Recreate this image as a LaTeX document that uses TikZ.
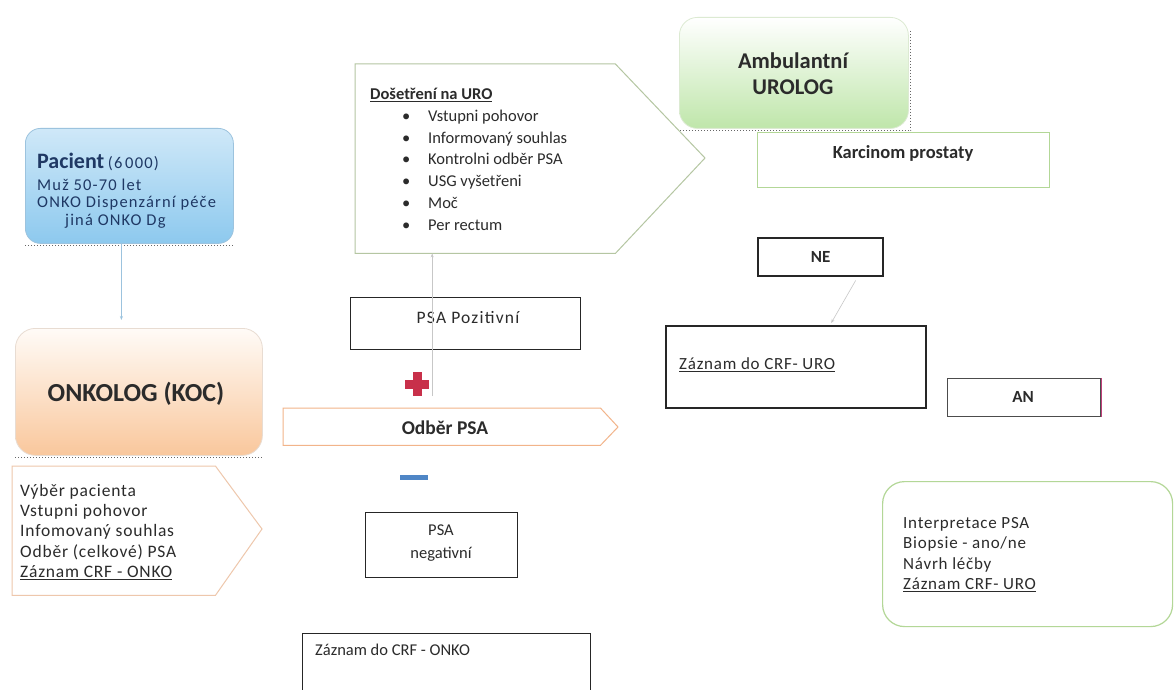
\documentclass[tikz,border=0pt]{standalone}
\usepackage{fontspec}
\setmainfont{Carlito}
\newfontfamily\lsfont[LetterSpace=4.5]{Carlito}
\newfontfamily\lswide[LetterSpace=7]{Carlito}
\usetikzlibrary{arrows.meta}
\newcommand{\myul}[1]{\underline{#1}}
\definecolor{txt}{HTML}{2B2B2B}
\definecolor{navy}{HTML}{1F3864}
\definecolor{pacT}{HTML}{CFE8F8}
\definecolor{pacB}{HTML}{8DC9EE}
\definecolor{pacD}{HTML}{9CC3DE}
\definecolor{onkT}{HTML}{FFFBF7}
\definecolor{onkB}{HTML}{F9C79C}
\definecolor{onkD}{HTML}{E8DCD2}
\definecolor{ambB}{HTML}{BFE6AA}
\definecolor{ambD}{HTML}{DCEAD2}
\definecolor{grn}{HTML}{B3D797}
\definecolor{grnD}{HTML}{B5C6A2}
\definecolor{org}{HTML}{F2B48A}
\definecolor{orgL}{HTML}{EEC7AC}
\definecolor{crossred}{HTML}{C8304A}
\definecolor{dashblue}{HTML}{4F86C6}
\definecolor{pink}{HTML}{C0407A}
\begin{document}
\begin{tikzpicture}[x=1pt,y=-1pt,
  every node/.style={inner sep=0pt, text=txt},
  sm/.style={font=\fontsize{16.5}{20.6}\selectfont},
  smls/.style={font=\lsfont\fontsize{17}{20.5}\selectfont},
  bx/.style={anchor=north west, minimum width=#1},
  blackbox/.style={draw=black!85, line width=1.4pt, fill=white},
  thickbox/.style={draw=black!85, line width=2.4pt, fill=white},
  link/.style={draw=black!22, line width=0.6pt, -{Stealth[length=4pt,width=3pt]}},
  scan/.style={draw=black!60, dotted, line width=1pt},
]
\useasboundingbox (0,0) rectangle (1175,690);
\fill[white] (0,0) rectangle (1175,690);

% ---------- left column ----------
\node[bx=208, minimum height=115, draw=pacD, line width=0.8pt, rounded corners=15pt,
      top color=pacT, bottom color=pacB] (pac) at (25,128) {};
\draw[scan] ([yshift=-2pt]pac.south west) -- ([yshift=-2pt]pac.south east);
\node[anchor=north west, align=left, text=navy, font=\fontsize{16.5}{17.6}\selectfont] (pactxt) at (37,153)
  {{\fontsize{22}{22}\selectfont\bfseries Pacient} {\lswide (6\,000)}\\[4pt] \lswide Muž 50-70 let\\ \lswide ONKO Dispenzární péče\\ \hspace*{28pt}\lswide jiná ONKO Dg};

\node[bx=247, minimum height=127, draw=onkD, line width=0.8pt, rounded corners=20pt,
      top color=onkT, bottom color=onkB] (onk) at (15,328) {};
\draw[scan] ([yshift=-2pt]onk.south west) -- ([yshift=-2pt]onk.south east);
\node[font=\fontsize{26}{26}\selectfont\bfseries] (onktxt) at (136,394) {ONKOLOG (KOC)};

\draw[draw=pacD, line width=0.6pt, -{Stealth[length=4pt,width=3pt]}, shorten >=8pt]
  ([xshift=-8pt]pac.south) -- ([xshift=-8pt]pac.south |- onk.north);

\node[bx=203, minimum height=129] (lp) at (12,466) {};
\draw[orgL, line width=1pt] (lp.north west) -- (lp.north east) -- (262,529) -- (lp.south east) -- (lp.south west) -- cycle;
\node[font=\lsfont\fontsize{17.5}{20.3}\selectfont, anchor=north west, align=left] (lptxt) at (20,484)
  {Výběr pacienta\\ Vstupni pohovor\\ Infomovaný souhlas\\ Odběr (celkové) PSA\\ \myul{Záznam CRF - ONKO}};

% ---------- middle column ----------
\node[bx=260, minimum height=189] (dos) at (355,64) {};
\draw[grnD, line width=1pt] (dos.north west) -- (dos.north east) -- (705,158) -- (dos.south east) -- (dos.south west) -- cycle;
\node[anchor=north west, align=left, font=\fontsize{16.5}{21.8}\selectfont] (dostxt) at (370,88)
  {\textbf{\myul{Došetření na URO}}\\
   \hspace*{32pt}\makebox[26pt][l]{•}Vstupni pohovor\\
   \hspace*{32pt}\makebox[26pt][l]{•}Informovaný souhlas\\
   \hspace*{32pt}\makebox[26pt][l]{•}Kontrolni odběr PSA\\
   \hspace*{32pt}\makebox[26pt][l]{•}USG vyšetřeni\\
   \hspace*{32pt}\makebox[26pt][l]{•}Moč\\
   \hspace*{32pt}\makebox[26pt][l]{•}Per rectum};

\node[minimum size=24] (cross) at (417,384) {};
\fill[crossred] ([xshift=-4.5pt]cross.north) rectangle ([xshift=4.5pt]cross.south);
\fill[crossred] ([yshift=4.5pt]cross.west) rectangle ([yshift=-4.5pt]cross.east);

\node[bx=230, minimum height=52, blackbox] (pos) at (350,297) {};
\node[font=\lswide\fontsize{17.5}{20}\selectfont] (postxt) at (468,318) {PSA Pozitivní};

\draw[link] ([xshift=3pt,yshift=-12pt]cross.east) -- ([xshift=3pt]cross.east |- dos.south);

\node[bx=317, minimum height=37] (odb) at (283,408) {};
\draw[org, line width=1pt] (odb.north west) -- (odb.north east) -- (618,427) -- (odb.south east) -- (odb.south west) -- cycle;
\node[font=\fontsize{19.5}{20}\selectfont\bfseries] (odbtxt) at (445,428) {Odběr PSA};

\node[minimum width=28, minimum height=5, fill=dashblue] (dash) at (414,477) {};

\node[bx=152, minimum height=65, blackbox] (neg) at (365,512) {};
\node[align=center, font=\fontsize{16.5}{23}\selectfont] (negtxt) at (441,543) {PSA\\ negativní};

\node[bx=288, minimum height=59, blackbox] (zonko) at (302,633) {};
\node[sm, anchor=west] (zonkotxt) at (315,650) {Záznam do CRF - ONKO};

% ---------- right column ----------
\node[bx=292, minimum height=55, draw=grn, line width=1.2pt, fill=white] (kp) at (757,132) {};
\node[font=\fontsize{18.5}{20}\selectfont\bfseries] (kptxt) at (903,153) {Karcinom prostaty};

\node[bx=229, minimum height=111, draw=ambD, line width=0.8pt, rounded corners=18pt,
      top color=white, bottom color=ambB] (amb) at (679,17) {};
\draw[scan] ([xshift=2pt,yshift=-14pt]amb.north east) -- ([xshift=2pt,yshift=-2pt]amb.south east) -- ([yshift=-2pt]amb.south west);
\node[align=center, font=\fontsize{22.5}{26}\selectfont\bfseries] (ambtxt) at (793,74) {Ambulantní\\ UROLOG};

\node[bx=125, minimum height=38, thickbox] (ne) at (757,237) {};
\node[font=\fontsize{17}{20}\selectfont\bfseries] (netxt) at (ne.center) {NE};

\node[bx=260, minimum height=82, thickbox] (zuro) at (665,325) {};
\node[smls, anchor=west] (zurotxt) at (679,365) {\myul{Záznam do CRF- URO}};

\draw[link] ([xshift=35pt,yshift=-3pt]ne.south) -- ([xshift=35pt,yshift=2pt]zuro.north);

\node[bx=153, minimum height=38, draw=black!70, line width=1.4pt, fill=white] (an) at (947,378) {};
\draw[pink, line width=1.4pt] (an.north east) -- (an.south east);
\node[font=\fontsize{17}{20}\selectfont\bfseries] (antxt) at (1023,397) {AN};

\node[bx=290, minimum height=145, draw=grn, line width=1.2pt, rounded corners=22pt, fill=white] (interp) at (882,481) {};
\node[smls, anchor=north west, align=left] (interptxt) at (903,517)
  {Interpretace PSA\\ Biopsie - ano/ne\\ Návrh léčby\\ \myul{Záznam CRF- URO}};
\end{tikzpicture}
\end{document}
